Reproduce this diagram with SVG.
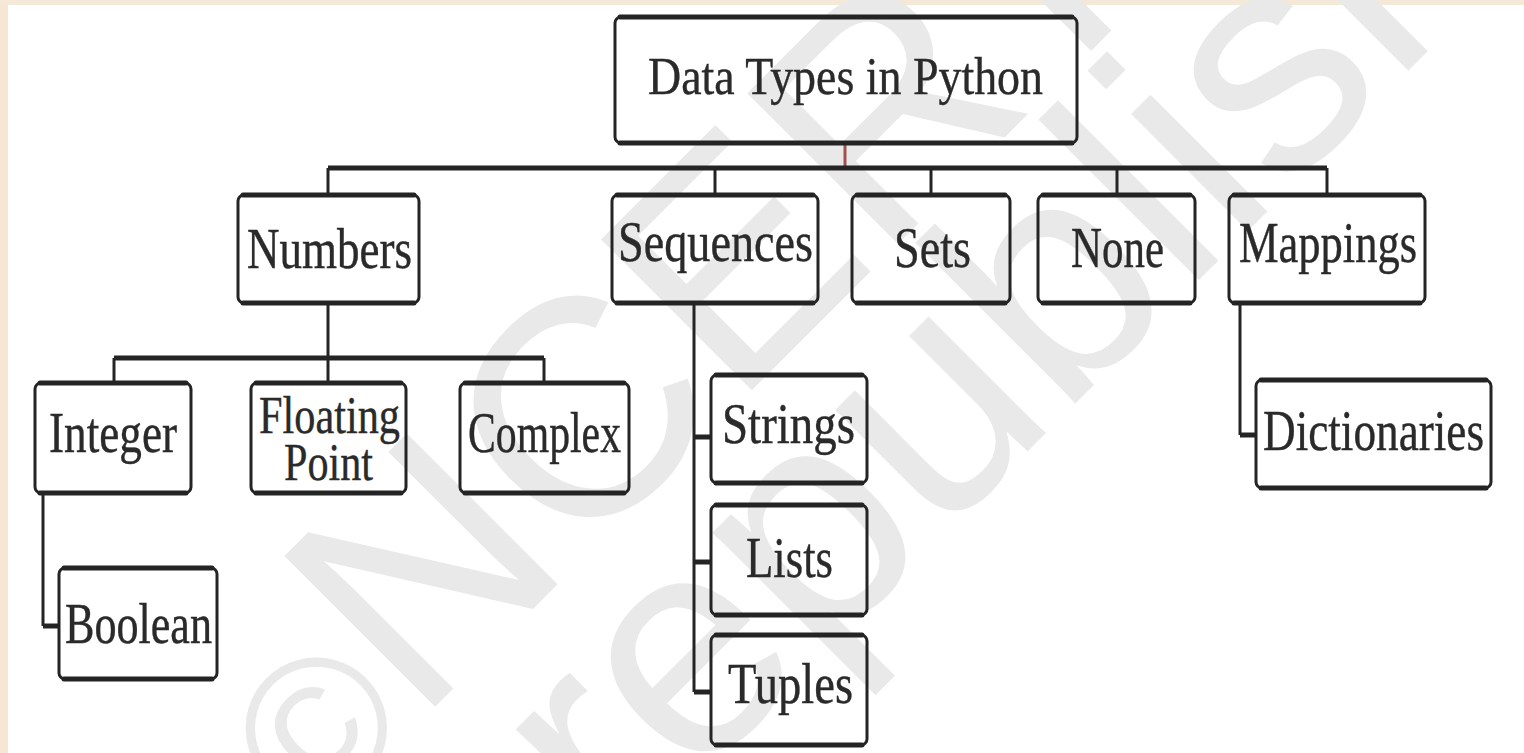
<svg xmlns="http://www.w3.org/2000/svg" width="1524" height="753" viewBox="0 0 1524 753">
  <style>
    .bg { fill: #ffffff; }
    .edge-left { fill: #f6e6d3; }
    .edge-top { fill: #f3e9d6; }
    .wm { font-family: "Liberation Sans", Arial, sans-serif; fill: #e9e9e9; }
    .box { fill: none; stroke: #242424; stroke-width: 3; }
    .rim { stroke: #242424; stroke-width: 5; stroke-linecap: round; }
    .lbl { font-family: "Liberation Serif", "Times New Roman", serif; fill: #2a2a2a; stroke: #2a2a2a; stroke-width: 0.4; }
    .l1 { font-size: 53px; }
    .l2 { font-size: 56px; }
    .l3 { font-size: 53px; }
    .v { stroke: #242424; stroke-width: 3; fill: none; }
    .h { stroke: #242424; stroke-width: 5; fill: none; }
    .stem { stroke: #a0504f; stroke-width: 3; }
  </style>

  <!-- page background and paper edge -->
  <rect class="bg" x="0" y="0" width="1524" height="753"/>
  <rect class="edge-left" x="0" y="0" width="8" height="753"/>
  <rect class="edge-top" x="0" y="0" width="1524" height="5"/>

  <!-- faint copyright watermark -->
  <g id="watermark">
    <text class="wm" font-size="310" transform="translate(313,829) rotate(-45)"><tspan font-size="200">©</tspan>NCERT</text>
    <text class="wm" font-size="313" transform="translate(-305,1784) rotate(-45)">not to be republished</text>
  </g>

  <!-- connectors -->
  <g id="connectors">
    <line class="stem" x1="845" y1="144" x2="845" y2="167"/>
    <line class="h" x1="328" y1="168" x2="1327" y2="168"/>
    <line class="v" x1="328" y1="168" x2="328" y2="195"/>
    <line class="v" x1="715" y1="168" x2="715" y2="195"/>
    <line class="v" x1="931" y1="168" x2="931" y2="195"/>
    <line class="v" x1="1117" y1="168" x2="1117" y2="195"/>
    <line class="v" x1="1327" y1="168" x2="1327" y2="195"/>

    <line class="v" x1="328" y1="303" x2="328" y2="383"/>
    <line class="h" x1="114" y1="358" x2="544" y2="358"/>
    <line class="v" x1="114" y1="358" x2="114" y2="383"/>
    <line class="v" x1="544" y1="358" x2="544" y2="383"/>

    <line class="v" x1="43" y1="493" x2="43" y2="626"/>
    <line class="h" x1="43" y1="626" x2="59" y2="626"/>

    <line class="v" x1="694" y1="303" x2="694" y2="692"/>
    <line class="h" x1="694" y1="437" x2="711" y2="437"/>
    <line class="h" x1="694" y1="562" x2="711" y2="562"/>
    <line class="h" x1="694" y1="692" x2="711" y2="692"/>

    <line class="v" x1="1240" y1="303" x2="1240" y2="435"/>
    <line class="h" x1="1240" y1="435" x2="1256" y2="435"/>
  </g>

  <!-- root -->
  <g id="root">
    <rect class="box" x="615" y="17" width="462" height="126" rx="6"/>
    <path class="rim" d="M620 17H1072M620 143H1072"/>
    <text class="lbl l1" x="648" y="94" textLength="395" lengthAdjust="spacingAndGlyphs">Data Types in Python</text>
  </g>

  <!-- second level -->
  <g id="numbers">
    <rect class="box" x="238" y="195" width="181" height="108" rx="6"/>
    <path class="rim" d="M243 195H414M243 303H414"/>
    <text class="lbl l2" x="247" y="268" textLength="165" lengthAdjust="spacingAndGlyphs">Numbers</text>
  </g>
  <g id="sequences">
    <rect class="box" x="612" y="195" width="206" height="108" rx="6"/>
    <path class="rim" d="M617 195H813M617 303H813"/>
    <text class="lbl l2" x="618" y="261" textLength="195" lengthAdjust="spacingAndGlyphs">Sequences</text>
  </g>
  <g id="sets">
    <rect class="box" x="852" y="195" width="158" height="108" rx="6"/>
    <path class="rim" d="M857 195H1005M857 303H1005"/>
    <text class="lbl l2" x="894" y="267" textLength="77" lengthAdjust="spacingAndGlyphs">Sets</text>
  </g>
  <g id="none">
    <rect class="box" x="1038" y="195" width="157" height="108" rx="6"/>
    <path class="rim" d="M1043 195H1190M1043 303H1190"/>
    <text class="lbl l2" x="1071" y="267" textLength="93" lengthAdjust="spacingAndGlyphs">None</text>
  </g>
  <g id="mappings">
    <rect class="box" x="1229" y="195" width="196" height="108" rx="6"/>
    <path class="rim" d="M1234 195H1420M1234 303H1420"/>
    <text class="lbl l2" x="1239" y="262" textLength="178" lengthAdjust="spacingAndGlyphs">Mappings</text>
  </g>

  <!-- number kinds -->
  <g id="integer">
    <rect class="box" x="35" y="383" width="156" height="110" rx="6"/>
    <path class="rim" d="M40 383H186M40 493H186"/>
    <text class="lbl l2" x="49" y="452" textLength="128" lengthAdjust="spacingAndGlyphs">Integer</text>
  </g>
  <g id="floating-point">
    <rect class="box" x="251" y="383" width="155" height="110" rx="6"/>
    <path class="rim" d="M256 383H401M256 493H401"/>
    <text class="lbl l3" x="259" y="433" textLength="141" lengthAdjust="spacingAndGlyphs">Floating</text>
    <text class="lbl l3" x="284" y="480" textLength="89" lengthAdjust="spacingAndGlyphs">Point</text>
  </g>
  <g id="complex">
    <rect class="box" x="460" y="383" width="169" height="110" rx="6"/>
    <path class="rim" d="M465 383H624M465 493H624"/>
    <text class="lbl l2" x="468" y="452" textLength="153" lengthAdjust="spacingAndGlyphs">Complex</text>
  </g>
  <g id="boolean">
    <rect class="box" x="59" y="568" width="158" height="111" rx="6"/>
    <path class="rim" d="M64 568H212M64 679H212"/>
    <text class="lbl l2" x="65" y="643" textLength="147" lengthAdjust="spacingAndGlyphs">Boolean</text>
  </g>

  <!-- sequence kinds -->
  <g id="strings">
    <rect class="box" x="711" y="375" width="156" height="108" rx="6"/>
    <path class="rim" d="M716 375H862M716 483H862"/>
    <text class="lbl l2" x="722" y="443" textLength="133" lengthAdjust="spacingAndGlyphs">Strings</text>
  </g>
  <g id="lists">
    <rect class="box" x="711" y="505" width="156" height="110" rx="6"/>
    <path class="rim" d="M716 505H862M716 615H862"/>
    <text class="lbl l2" x="746" y="577" textLength="87" lengthAdjust="spacingAndGlyphs">Lists</text>
  </g>
  <g id="tuples">
    <rect class="box" x="711" y="635" width="156" height="110" rx="6"/>
    <path class="rim" d="M716 635H862M716 745H862"/>
    <text class="lbl l2" x="728" y="703" textLength="125" lengthAdjust="spacingAndGlyphs">Tuples</text>
  </g>

  <!-- mapping kinds -->
  <g id="dictionaries">
    <rect class="box" x="1256" y="380" width="235" height="108" rx="6"/>
    <path class="rim" d="M1261 380H1486M1261 488H1486"/>
    <text class="lbl l2" x="1263" y="450" textLength="221" lengthAdjust="spacingAndGlyphs">Dictionaries</text>
  </g>
</svg>
